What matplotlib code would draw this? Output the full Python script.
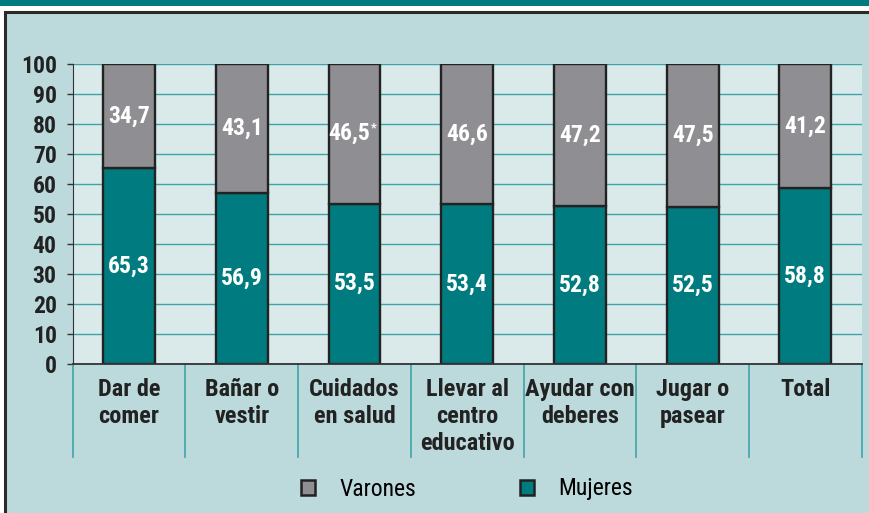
import matplotlib
matplotlib.use('Agg')
import matplotlib.pyplot as plt
import matplotlib.patches as mpatches

# ── Datos ────────────────────────────────────────────────────
categorias = ['Dar de\ncomer', 'Bañar o\nvestir', 'Cuidados\nen salud',
              'Llevar al\ncentro\neducativo', 'Ayudar con\ndeberes',
              'Jugar o\npasear', 'Total']
mujeres = [65.3, 56.9, 53.5, 53.4, 52.8, 52.5, 58.8]
varones = [34.7, 43.1, 46.5, 46.6, 47.2, 47.5, 41.2]
nota_varones = ['', '', '*', '', '', '', '']
yticks = list(range(0, 101, 10))

# ── Colores ──────────────────────────────────────────────────
TEAL = '#007B80'
GRIS = '#8F8F93'
FONDO = '#BCD9DC'
FONDO_EJE = '#DAEAEB'
REJILLA = '#3FA3A8'
BORDE = '#222222'
FUENTE = ['Roboto Condensed', 'DejaVu Sans']

plt.rcParams['font.family'] = FUENTE

W, H = 869, 513
fig = plt.figure(figsize=(W / 100, H / 100), dpi=100)
fig.patch.set_facecolor('white')

# banda superior y panel con borde
fig.patches.append(mpatches.Rectangle((0, 1 - 6 / H), 1, 6 / H, transform=fig.transFigure,
                                      facecolor=TEAL, edgecolor='none', zorder=-2))
fig.patches.append(mpatches.Rectangle((5 / W, -0.01), (W + 10) / W, (H - 12) / H + 0.01,
                                      transform=fig.transFigure, facecolor=FONDO,
                                      edgecolor='#2a2a2a', linewidth=2.2, zorder=-2))

x0, x1, y0, y1 = 72.7, 861.7, 364, 64
ax = fig.add_axes([x0 / W, 1 - y0 / H, (x1 - x0) / W, (y0 - y1) / H])
ax.set_zorder(2)
ax.set_facecolor(FONDO_EJE)

x = list(range(len(categorias)))
ax.bar(x, mujeres, width=0.46, color=TEAL, edgecolor=BORDE, linewidth=1.7, zorder=3)
ax.bar(x, varones, bottom=mujeres, width=0.46, color=GRIS, edgecolor=BORDE,
       linewidth=1.7, zorder=3)

for i in x:
    ax.text(i, mujeres[i] / 2, f'{mujeres[i]:.1f}'.replace('.', ','), ha='center',
            va='center', color='white', fontsize=17, fontweight='bold', zorder=4)
    yv = mujeres[i] + varones[i] / 2
    dx = -4 if nota_varones[i] else 0   # deja sitio para la nota
    ax.annotate(f'{varones[i]:.1f}'.replace('.', ','), xy=(i, yv), xytext=(dx, 0),
                textcoords='offset points', ha='center', va='center', color='white',
                fontsize=17, fontweight='bold', zorder=4)
    if nota_varones[i]:
        ax.annotate(nota_varones[i], xy=(i, yv), xytext=(12, 4), textcoords='offset points',
                    ha='left', va='center', color='white', fontsize=9,
                    fontweight='bold', zorder=4)

ax.set_xlim(-0.5, len(categorias) - 0.5)
ax.set_ylim(0, 100)
ax.set_yticks(yticks)
ax.set_yticklabels([str(t) for t in yticks], fontsize=17, fontweight='bold', color='#222')
ax.tick_params(axis='y', length=4.5, width=1, color='#333', pad=7)
ax.set_xticks(x)
ax.set_xticklabels(categorias, fontsize=17.5, fontweight='bold', color='#222',
                   va='top', linespacing=1.22)
ax.tick_params(axis='x', length=0, pad=10)

ax.grid(axis='y', color=REJILLA, linewidth=1, zorder=1)
ax.set_axisbelow(True)
for s in ['top', 'right']:
    ax.spines[s].set_visible(False)
ax.spines['left'].set_color('#333')
ax.spines['bottom'].set_color('#333')
ax.spines['bottom'].set_linewidth(1.3)
ax.spines['bottom'].set_zorder(5)

# separadores verticales bajo el eje
for b in [i - 0.5 for i in range(len(categorias) + 1)]:
    ax.plot([b, b], [0, -93 / 300], transform=ax.get_xaxis_transform(),
            color=REJILLA, linewidth=1.2, clip_on=False)

handles = [mpatches.Patch(facecolor=GRIS, edgecolor=BORDE, linewidth=1.8, label='Varones'),
           mpatches.Patch(facecolor=TEAL, edgecolor=BORDE, linewidth=1.8, label='Mujeres')]
fig.legend(handles=handles, loc='center', bbox_to_anchor=(0.537, 1 - 489 / H), ncol=2,
           frameon=False, prop={'family': FUENTE, 'size': 17},
           handlelength=0.62, handleheight=0.62, handletextpad=1.0, columnspacing=4.4)

fig.savefig('out.png', dpi=100, facecolor=fig.get_facecolor())
